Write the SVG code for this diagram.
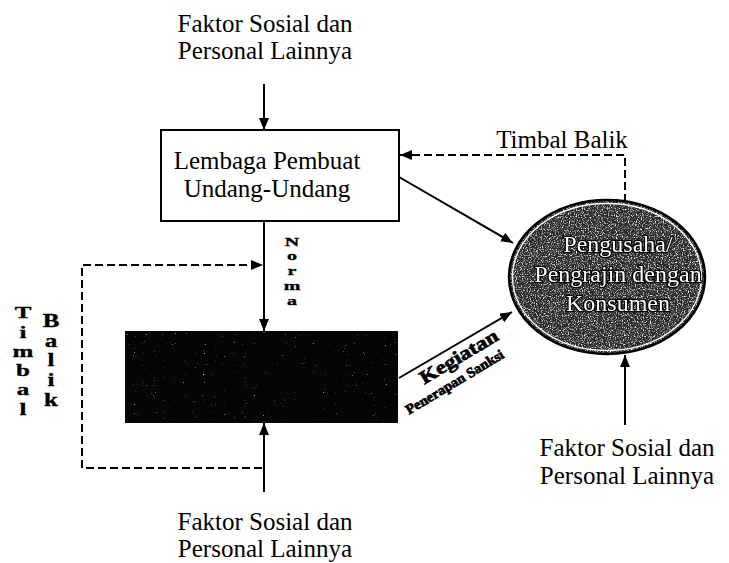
<svg xmlns="http://www.w3.org/2000/svg" width="729" height="563" viewBox="0 0 729 563">
<style>
.t{font-family:"Liberation Serif","Times New Roman",serif;font-size:25px;fill:#000;text-anchor:middle}
.v{font-family:"Liberation Serif","Times New Roman",serif;font-weight:bold;fill:#000;stroke:#000;stroke-width:0.5;writing-mode:vertical-rl;text-orientation:upright}
.k{font-family:"Liberation Serif","Times New Roman",serif;font-weight:bold;fill:#000;stroke:#000;stroke-width:0.7;text-anchor:middle}
.e{font-family:"Liberation Serif","Times New Roman",serif;font-size:24px;fill:#fff;stroke:#000;stroke-width:2.4;paint-order:stroke;text-anchor:middle}
.ln{stroke:#000;stroke-width:2;fill:none}
.ds{stroke:#000;stroke-width:2;fill:none;stroke-dasharray:8 4}
</style>
<defs>
<marker id="ah" markerUnits="userSpaceOnUse" markerWidth="14" markerHeight="12" refX="12" refY="5" orient="auto">
<path d="M0,0 L12,5 L0,10 Z" fill="#000"/>
</marker>
<filter id="speckle" x="0" y="0" width="100%" height="100%" color-interpolation-filters="sRGB">
<feTurbulence type="fractalNoise" baseFrequency="0.85" numOctaves="2" seed="4" result="n"/>
<feColorMatrix in="n" type="matrix" values="0 0 0 0 1  0 0 0 0 1  0 0 0 0 1  3.2 0 0 0 -1.55" result="w"/>
<feComposite in="w" in2="SourceGraphic" operator="atop"/>
</filter>
<filter id="speckle2" x="0" y="0" width="100%" height="100%" color-interpolation-filters="sRGB">
<feTurbulence type="fractalNoise" baseFrequency="0.9" numOctaves="1" seed="9" result="n"/>
<feColorMatrix in="n" type="matrix" values="0 0 0 0 1  0 0 0 0 1  0 0 0 0 1  7 0 0 0 -5" result="w"/>
<feComposite in="w" in2="SourceGraphic" operator="atop"/>
</filter>
<filter id="gray" x="-5%" y="-5%" width="110%" height="110%" color-interpolation-filters="sRGB">
<feColorMatrix type="saturate" values="0"/>
</filter>
</defs>
<rect width="729" height="563" fill="#fff"/>

<g id="connectors">
<line class="ln" x1="264" y1="84" x2="264" y2="130" marker-end="url(#ah)"/>
<line class="ln" x1="264" y1="221" x2="264" y2="331" marker-end="url(#ah)"/>
<line class="ln" x1="264" y1="492" x2="264" y2="423" marker-end="url(#ah)"/>
<line class="ln" x1="399" y1="177" x2="513" y2="243" marker-end="url(#ah)"/>
<line class="ln" x1="399" y1="378" x2="512" y2="312" marker-end="url(#ah)"/>
<line class="ln" x1="625" y1="425" x2="625" y2="355" marker-end="url(#ah)"/>
<polyline class="ds" points="625,202 625,155 400,155" marker-end="url(#ah)"/>
<polyline class="ds" points="262,468 82,468 82,265 263,265" marker-end="url(#ah)"/>
</g>

<g id="label-top">
<text class="t" x="265" y="32">Faktor Sosial dan</text>
<text class="t" x="265" y="59">Personal Lainnya</text>
</g>

<g id="node-lembaga">
<rect x="161" y="130" width="238" height="91" fill="#fff" stroke="#000" stroke-width="2"/>
<text class="t" x="267" y="169">Lembaga Pembuat</text>
<text class="t" x="267" y="197">Undang-Undang</text>
</g>

<g id="label-timbal-top">
<text class="t" x="562" y="148">Timbal Balik</text>
</g>

<g id="label-norma">
<text class="v" font-size="20" transform="translate(292,234) scale(1,0.655)" x="0" y="0">Norma</text>
</g>

<g id="label-timbal-left">
<text class="v" font-size="25" transform="translate(23,303) scale(1,0.69)" x="0" y="0">Timbal</text>
<text class="v" font-size="25" transform="translate(51,311) scale(1,0.72)" x="0" y="0">Balik</text>
</g>

<g id="node-black">
<rect x="125" y="331" width="273" height="92" fill="#050505" filter="url(#speckle2)"/>
</g>

<g id="label-kegiatan">
<text class="k" font-size="19" transform="translate(462,362) rotate(-31)" x="0" y="0" textLength="88" lengthAdjust="spacingAndGlyphs">Kegiatan</text>
<text class="k" font-size="14" transform="translate(457,386) rotate(-31)" x="0" y="0" textLength="112" lengthAdjust="spacingAndGlyphs">Penerapan Sanksi</text>
</g>

<g id="node-pengusaha" filter="url(#gray)">
<ellipse cx="607" cy="277" rx="98" ry="77" fill="#2a2a2a" filter="url(#speckle)"/>
<ellipse cx="607" cy="277" rx="98" ry="77" fill="none" stroke="#000" stroke-width="2.5"/>
<ellipse cx="607" cy="277" rx="94.5" ry="73.5" fill="none" stroke="#fff" stroke-width="1.3"/>
<text class="e" x="618" y="252">Pengusaha/</text>
<text class="e" x="618" y="282">Pengrajin dengan</text>
<text class="e" x="618" y="311">Konsumen</text>
</g>

<g id="label-bottom">
<text class="t" x="265" y="530">Faktor Sosial dan</text>
<text class="t" x="265" y="557">Personal Lainnya</text>
</g>

<g id="label-bottom-right">
<text class="t" x="627" y="456">Faktor Sosial dan</text>
<text class="t" x="627" y="484">Personal Lainnya</text>
</g>
</svg>
